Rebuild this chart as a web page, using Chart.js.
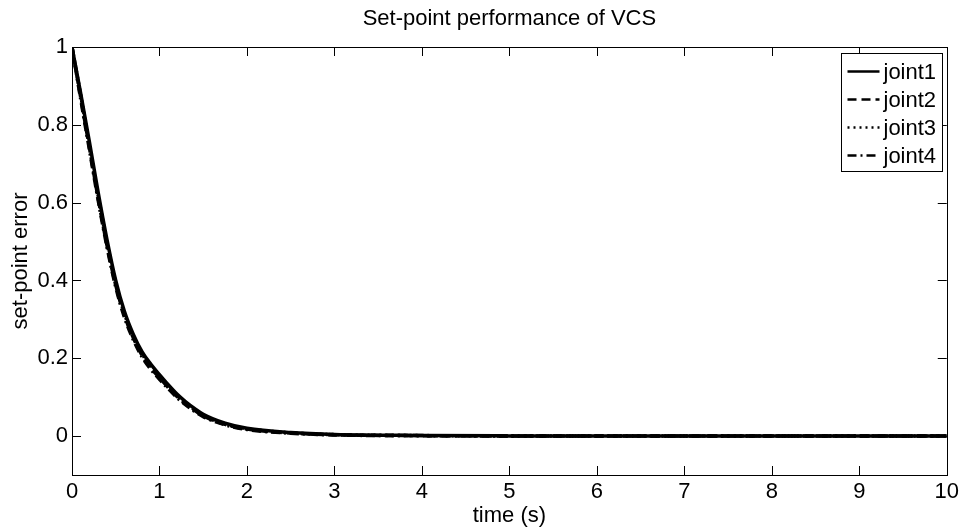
<!DOCTYPE html>
<html>
<head>
<meta charset="utf-8">
<script src="https://cdn.jsdelivr.net/npm/chart.js@4/dist/chart.umd.min.js"></script>
<style>
  html, body { margin: 0; padding: 0; background: #ffffff; }
  #wrap { width: 963px; height: 529px; }
</style>
</head>
<body>
<div id="wrap"><canvas id="chart" width="963" height="529"></canvas></div>
<script>
const times = [0, 0.1, 0.2, 0.3, 0.4, 0.5, 0.6, 0.7, 0.8, 0.9, 1.0, 1.1, 1.2, 1.3, 1.4, 1.5, 1.75, 2.0, 2.5, 3.0, 4.0, 5.0, 6.0, 7.0, 8.0, 9.0, 10.0];
const joint1 = [1.0, 0.88, 0.755, 0.625, 0.505, 0.4, 0.32, 0.262, 0.217, 0.185, 0.158, 0.132, 0.108, 0.088, 0.071, 0.056, 0.033, 0.02, 0.009, 0.004, 0.0015, 0.0005, 0, 0, 0, 0, 0];
const joint2 = [1.0, 0.87, 0.74, 0.61, 0.49, 0.388, 0.31, 0.253, 0.208, 0.176, 0.15, 0.125, 0.102, 0.083, 0.066, 0.052, 0.03, 0.018, 0.008, 0.0035, 0.0012, 0.0004, 0, 0, 0, 0, 0];
const joint3 = [1.0, 0.875, 0.747, 0.617, 0.497, 0.393, 0.314, 0.257, 0.212, 0.18, 0.153, 0.128, 0.105, 0.085, 0.068, 0.054, 0.031, 0.019, 0.0085, 0.0038, 0.0013, 0.0005, 0, 0, 0, 0, 0];
const joint4 = [1.0, 0.865, 0.735, 0.605, 0.486, 0.383, 0.305, 0.248, 0.204, 0.172, 0.146, 0.122, 0.099, 0.08, 0.064, 0.05, 0.029, 0.017, 0.0075, 0.003, 0.001, 0.0003, 0, 0, 0, 0, 0];
const seriesNames = ["joint1", "joint2", "joint3", "joint4"];
const xTicks = [0, 1, 2, 3, 4, 5, 6, 7, 8, 9, 10];
const yTicks = [0, 0.2, 0.4, 0.6, 0.8, 1];

const FONT = "Liberation Sans, Arial, Helvetica, sans-serif";
const FS = 22;
const dashes = [[], [9, 5], [2, 4], [9, 4, 2, 4]];

function toPoints(vals) {
  return vals.map((v, i) => ({ x: times[i], y: v }));
}

const datasets = [joint1, joint2, joint3, joint4].map((vals, i) => ({
  label: seriesNames[i],
  data: toPoints(vals),
  borderColor: "#000000",
  borderWidth: 3.5,
  borderDash: dashes[i],
  pointRadius: 0,
  fill: false,
  cubicInterpolationMode: "monotone",
}));

// box round the plot with inward ticks on all four sides, like matlab
const boxPlugin = {
  id: "box",
  afterDatasetsDraw(chart) {
    const ctx = chart.ctx;
    const a = chart.chartArea;
    const xs = chart.scales.x;
    const ys = chart.scales.y;
    ctx.save();
    ctx.strokeStyle = "#000000";
    ctx.lineWidth = 1;
    ctx.beginPath();
    for (const t of xTicks) {
      const px = Math.round(xs.getPixelForValue(t)) + 0.5;
      ctx.moveTo(px, a.bottom); ctx.lineTo(px, a.bottom - 9);
      ctx.moveTo(px, a.top); ctx.lineTo(px, a.top + 9);
    }
    for (const t of yTicks) {
      const py = Math.round(ys.getPixelForValue(t)) + 0.5;
      ctx.moveTo(a.left, py); ctx.lineTo(a.left + 9, py);
      ctx.moveTo(a.right, py); ctx.lineTo(a.right - 9, py);
    }
    ctx.stroke();
    ctx.strokeRect(Math.round(a.left) + 0.5, Math.round(a.top) + 0.5,
      Math.round(a.right - a.left), Math.round(a.bottom - a.top));
    ctx.restore();
  },
  afterDraw(chart) {
    // legend in the upper right corner
    const ctx = chart.ctx;
    const a = chart.chartArea;
    const bw = 101, bh = 118;
    const bx = Math.round(a.right) - 106 + 0.5;
    const by = Math.round(a.top) + 6 + 0.5;
    ctx.save();
    ctx.fillStyle = "#ffffff";
    ctx.fillRect(bx, by, bw, bh);
    ctx.strokeStyle = "#000000";
    ctx.lineWidth = 1;
    ctx.strokeRect(bx, by, bw, bh);
    ctx.font = FS + "px " + FONT;
    ctx.textBaseline = "middle";
    ctx.fillStyle = "#000000";
    chart.data.datasets.forEach((ds, i) => {
      const cy = by + 18 + i * 28;
      ctx.beginPath();
      ctx.setLineDash(ds.borderDash);
      ctx.lineWidth = 2.5;
      ctx.moveTo(bx + 6, cy);
      ctx.lineTo(bx + 38, cy);
      ctx.stroke();
      ctx.setLineDash([]);
      ctx.fillText(ds.label, bx + 42, cy + 1);
    });
    ctx.restore();
  },
};

new Chart(document.getElementById("chart"), {
  type: "line",
  data: { datasets: datasets },
  plugins: [boxPlugin],
  options: {
    responsive: false,
    animation: false,
    layout: { padding: { left: 0, right: 15, top: 0, bottom: 0 } },
    plugins: {
      legend: { display: false },
      tooltip: { enabled: false },
      title: {
        display: true,
        text: "Set-point performance of VCS",
        color: "#000000",
        fullSize: false,
        font: { family: FONT, size: FS, weight: "normal" },
        padding: { top: 6, bottom: 14.6 },
      },
    },
    scales: {
      x: {
        type: "linear",
        min: 0,
        max: 10,
        afterBuildTicks: (scale) => { scale.ticks = xTicks.map((v) => ({ value: v })); },
        afterFit: (scale) => { scale.height = 54; },
        grid: { display: false, drawTicks: false },
        border: { display: false },
        ticks: { color: "#000000", font: { family: FONT, size: FS }, padding: 4, maxRotation: 0 },
        title: {
          display: true,
          text: "time (s)",
          color: "#000000",
          font: { family: FONT, size: FS },
          padding: { top: 0, bottom: 0 },
        },
      },
      y: {
        type: "linear",
        min: -0.1,
        max: 1,
        afterBuildTicks: (scale) => { scale.ticks = yTicks.map((v) => ({ value: v })); },
        afterFit: (scale) => { scale.width = 72; },
        grid: { display: false, drawTicks: false },
        border: { display: false },
        ticks: {
          color: "#000000",
          font: { family: FONT, size: FS },
          padding: 4,
          callback: (v) => String(Math.round(v * 10) / 10),
        },
        title: {
          display: true,
          text: "set-point error",
          color: "#000000",
          font: { family: FONT, size: FS },
          padding: { top: 8, bottom: 0 },
        },
      },
    },
  },
});
</script>
</body>
</html>
